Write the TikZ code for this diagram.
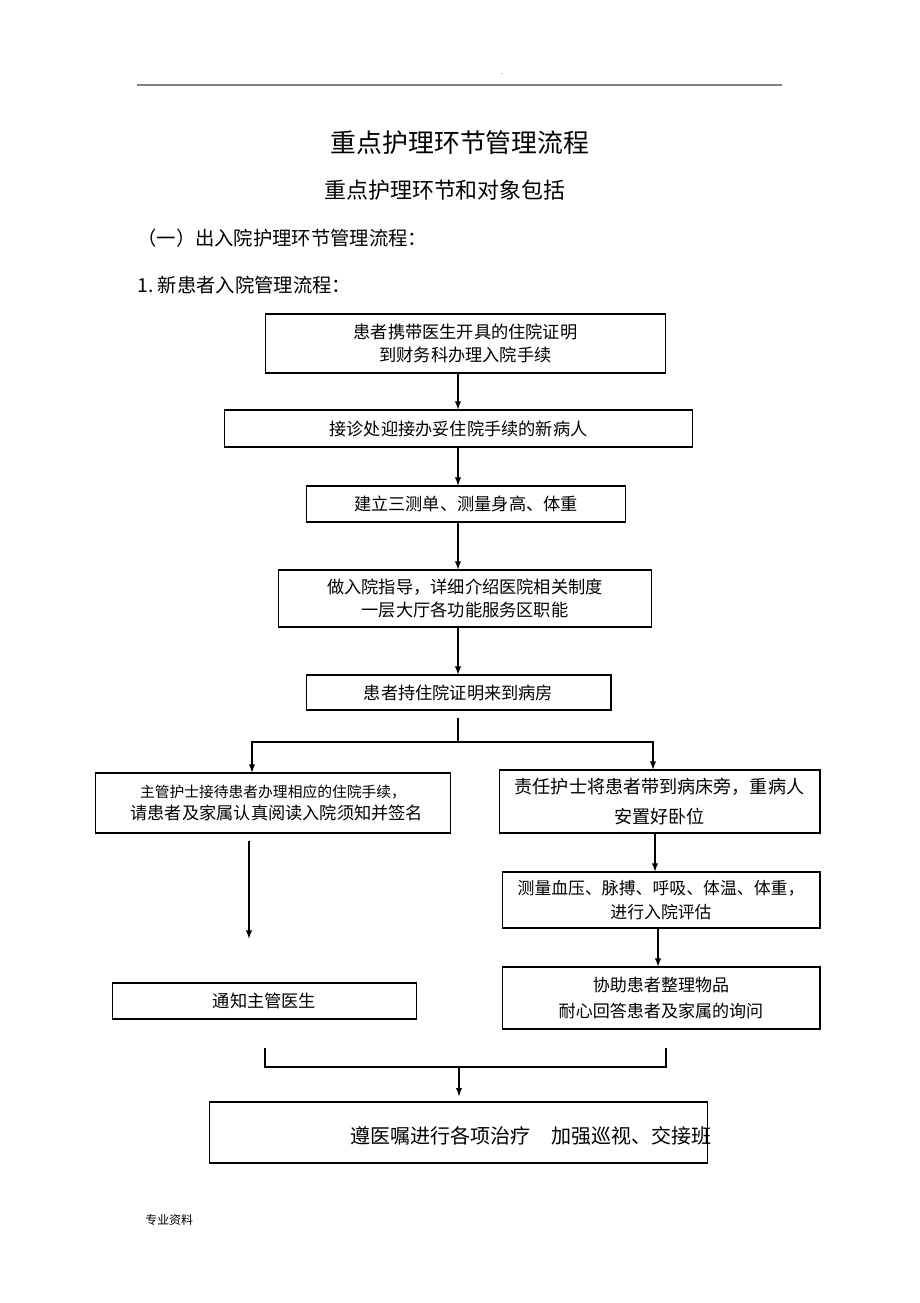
\documentclass[tikz,border=0pt]{standalone}
\usepackage{fontspec}
\setmainfont{Noto Sans CJK SC}
\begin{document}
\begin{tikzpicture}[x=0.02cm, y=-0.02cm,
    box/.style={draw, line width=0.6pt, align=center, inner sep=0pt, font=\fontsize{9.8}{13}\selectfont},
    arr/.style={-latex, line width=0.6pt}]
    \useasboundingbox (0,0) rectangle (920,1303);
    % header and titles
    \draw[gray, line width=0.6pt] (137,85) -- (782,85);
    \node[font=\fontsize{4}{4}\selectfont] (dot) at (502,74) {.};
    \node[font=\fontsize{14.7}{16}\selectfont] (title) at (460,143) {重点护理环节管理流程};
    \node[font=\fontsize{12.5}{14}\selectfont] (subtitle) at (445,190) {重点护理环节和对象包括};
    \node[anchor=west, inner sep=0pt, font=\fontsize{11}{13}\selectfont] (sect) at (137,238) {（一）出入院护理环节管理流程：};
    \node[anchor=west, inner sep=0pt, font=\fontsize{11}{13}\selectfont] (sub) at (137,285) {1.\ 新患者入院管理流程：};
    % boxes
    \node[box, minimum width=8.02cm, minimum height=1.18cm] (b1) at (465.5,343.5) {患者携带医生开具的住院证明\\到财务科办理入院手续};
    \node[box, minimum width=9.38cm, minimum height=0.74cm] (b2) at (458.5,428.5) {接诊处迎接办妥住院手续的新病人};
    \node[box, minimum width=6.4cm, minimum height=0.72cm] (b3) at (466,504) {建立三测单、测量身高、体重};
    \node[box, minimum width=7.48cm, minimum height=1.14cm] (b4) at (465,598.5) {做入院指导，详细介绍医院相关制度\\一层大厅各功能服务区职能};
    \node[box, minimum width=6.1cm, minimum height=0.7cm] (b5) at (458.5,692.5) {患者持住院证明来到病房};
    \node[box, minimum width=7.12cm, minimum height=1.2cm, font=\fontsize{8.4}{12}\selectfont] (b6) at (273,803) {主管护士接待患者办理相应的住院手续，\\{\fontsize{9.8}{12}\selectfont\ \ 请患者及家属认真阅读入院须知并签名}};
    \node[box, minimum width=6.42cm, minimum height=1.26cm, font=\fontsize{10.3}{17}\selectfont] (b7) at (659.5,801.5) {责任护士将患者带到病床旁，重病人\\安置好卧位};
    \node[box, minimum width=6.36cm, minimum height=1.12cm, font=\fontsize{9.6}{14}\selectfont] (b8) at (661,900) {测量血压、脉搏、呼吸、体温、体重，\\进行入院评估};
    \node[box, minimum width=6.36cm, minimum height=1.24cm, font=\fontsize{9.7}{14.5}\selectfont] (b9) at (661,998) {协助患者整理物品\\耐心回答患者及家属的询问};
    \node[box, minimum width=6.1cm, minimum height=0.72cm] (b10) at (264.5,1001) {通知主管医生};
    \node[box, minimum width=9.98cm, minimum height=1.22cm] (b11) at (458.5,1132.5) {};
    \node[font=\fontsize{11.4}{13}\selectfont, inner sep=0pt] (b11text) at (531,1136) {遵医嘱进行各项治疗　加强巡视、交接班};
    % connectors
    \draw[arr] (458,0 |- b1.south) -- (458,0 |- b2.north);
    \draw[arr] (458,0 |- b2.south) -- (458,0 |- b3.north);
    \draw[arr] (458,0 |- b3.south) -- (458,0 |- b4.north);
    \draw[arr] (458,0 |- b4.south) -- (458,0 |- b5.north);
    \coordinate (split) at (458,742);
    \draw[line width=0.6pt, shorten <=4pt] (458,0 |- b5.south) -- (split);
    \draw[arr] (split) -| (252,0 |- b6.north);
    \draw[arr] (split) -| (653,0 |- b7.north);
    \draw[arr] (655,0 |- b7.south) -- (655,0 |- b8.north);
    \draw[arr] (658,0 |- b8.south) -- (658,0 |- b9.north);
    \draw[arr, shorten <=4pt, shorten >=25pt] (249,0 |- b6.south) -- (249,0 |- b10.north);
    \coordinate (join) at (459,1067);
    \draw[line width=0.6pt] (265,1048) |- (666,1067) -- (666,1048);
    \draw[arr, shorten >=3pt] (join) -- (join |- b11.north);
    % footer
    \node[anchor=west, inner sep=0pt, font=\fontsize{6.8}{8}\selectfont] (foot) at (145,1220) {专业资料};
\end{tikzpicture}
\end{document}
